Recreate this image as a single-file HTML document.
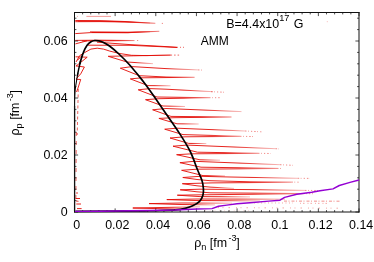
<!DOCTYPE html>
<html><head><meta charset="utf-8"><style>
html,body{margin:0;padding:0;background:#fff;}
body{width:374px;height:262px;overflow:hidden;position:relative;font-family:"Liberation Sans",sans-serif;}
svg{position:absolute;left:0;top:0;}
text{font-family:"Liberation Sans",sans-serif;fill:#000;}
#txt{will-change:transform;}
</style></head><body>
<svg width="374" height="262" viewBox="0 0 374 262">
<rect width="374" height="262" fill="#fff"/>

<defs>
<linearGradient id="g0" gradientUnits="userSpaceOnUse" x1="108.2" y1="0" x2="170.6" y2="0"><stop offset="0" stop-color="#e30b05"/><stop offset="0.6" stop-color="#e30b05"/><stop offset="1" stop-color="#e30b05" stop-opacity="0.3"/></linearGradient>
<linearGradient id="g1" gradientUnits="userSpaceOnUse" x1="108.2" y1="0" x2="153.0" y2="0"><stop offset="0" stop-color="#e30b05"/><stop offset="0.6" stop-color="#e30b05"/><stop offset="1" stop-color="#e30b05" stop-opacity="0.3"/></linearGradient>
<linearGradient id="g2" gradientUnits="userSpaceOnUse" x1="120.3" y1="0" x2="198.0" y2="0"><stop offset="0" stop-color="#e30b05"/><stop offset="0.6" stop-color="#e30b05"/><stop offset="1" stop-color="#e30b05" stop-opacity="0.3"/></linearGradient>
<linearGradient id="g3" gradientUnits="userSpaceOnUse" x1="120.3" y1="0" x2="194.6" y2="0"><stop offset="0" stop-color="#e30b05"/><stop offset="0.6" stop-color="#e30b05"/><stop offset="1" stop-color="#e30b05" stop-opacity="0.3"/></linearGradient>
<linearGradient id="g4" gradientUnits="userSpaceOnUse" x1="130.3" y1="0" x2="194.6" y2="0"><stop offset="0" stop-color="#e30b05"/><stop offset="0.6" stop-color="#e30b05"/><stop offset="1" stop-color="#e30b05" stop-opacity="0.3"/></linearGradient>
<linearGradient id="g5" gradientUnits="userSpaceOnUse" x1="130.3" y1="0" x2="170.6" y2="0"><stop offset="0" stop-color="#e30b05"/><stop offset="0.6" stop-color="#e30b05"/><stop offset="1" stop-color="#e30b05" stop-opacity="0.3"/></linearGradient>
<linearGradient id="g6" gradientUnits="userSpaceOnUse" x1="138.2" y1="0" x2="213.0" y2="0"><stop offset="0" stop-color="#e30b05"/><stop offset="0.6" stop-color="#e30b05"/><stop offset="1" stop-color="#e30b05" stop-opacity="0.3"/></linearGradient>
<linearGradient id="g7" gradientUnits="userSpaceOnUse" x1="138.2" y1="0" x2="209.0" y2="0"><stop offset="0" stop-color="#e30b05"/><stop offset="0.6" stop-color="#e30b05"/><stop offset="1" stop-color="#e30b05" stop-opacity="0.3"/></linearGradient>
<linearGradient id="g8" gradientUnits="userSpaceOnUse" x1="145.5" y1="0" x2="209.0" y2="0"><stop offset="0" stop-color="#e30b05"/><stop offset="0.6" stop-color="#e30b05"/><stop offset="1" stop-color="#e30b05" stop-opacity="0.3"/></linearGradient>
<linearGradient id="g9" gradientUnits="userSpaceOnUse" x1="145.5" y1="0" x2="185.0" y2="0"><stop offset="0" stop-color="#e30b05"/><stop offset="0.6" stop-color="#e30b05"/><stop offset="1" stop-color="#e30b05" stop-opacity="0.3"/></linearGradient>
<linearGradient id="g10" gradientUnits="userSpaceOnUse" x1="152.6" y1="0" x2="241.5" y2="0"><stop offset="0" stop-color="#e30b05"/><stop offset="0.6" stop-color="#e30b05"/><stop offset="1" stop-color="#e30b05" stop-opacity="0.3"/></linearGradient>
<linearGradient id="g11" gradientUnits="userSpaceOnUse" x1="152.6" y1="0" x2="231.5" y2="0"><stop offset="0" stop-color="#e30b05"/><stop offset="0.6" stop-color="#e30b05"/><stop offset="1" stop-color="#e30b05" stop-opacity="0.3"/></linearGradient>
<linearGradient id="g12" gradientUnits="userSpaceOnUse" x1="158.9" y1="0" x2="231.5" y2="0"><stop offset="0" stop-color="#e30b05"/><stop offset="0.6" stop-color="#e30b05"/><stop offset="1" stop-color="#e30b05" stop-opacity="0.3"/></linearGradient>
<linearGradient id="g13" gradientUnits="userSpaceOnUse" x1="158.9" y1="0" x2="198.7" y2="0"><stop offset="0" stop-color="#e30b05"/><stop offset="0.6" stop-color="#e30b05"/><stop offset="1" stop-color="#e30b05" stop-opacity="0.3"/></linearGradient>
<linearGradient id="g14" gradientUnits="userSpaceOnUse" x1="164.7" y1="0" x2="245.0" y2="0"><stop offset="0" stop-color="#e30b05"/><stop offset="0.6" stop-color="#e30b05"/><stop offset="1" stop-color="#e30b05" stop-opacity="0.3"/></linearGradient>
<linearGradient id="g15" gradientUnits="userSpaceOnUse" x1="164.7" y1="0" x2="240.0" y2="0"><stop offset="0" stop-color="#e30b05"/><stop offset="0.6" stop-color="#e30b05"/><stop offset="1" stop-color="#e30b05" stop-opacity="0.3"/></linearGradient>
<linearGradient id="g16" gradientUnits="userSpaceOnUse" x1="170.0" y1="0" x2="240.0" y2="0"><stop offset="0" stop-color="#e30b05"/><stop offset="0.6" stop-color="#e30b05"/><stop offset="1" stop-color="#e30b05" stop-opacity="0.3"/></linearGradient>
<linearGradient id="g17" gradientUnits="userSpaceOnUse" x1="170.0" y1="0" x2="206.3" y2="0"><stop offset="0" stop-color="#e30b05"/><stop offset="0.6" stop-color="#e30b05"/><stop offset="1" stop-color="#e30b05" stop-opacity="0.3"/></linearGradient>
<linearGradient id="g18" gradientUnits="userSpaceOnUse" x1="173.0" y1="0" x2="275.6" y2="0"><stop offset="0" stop-color="#e30b05"/><stop offset="0.6" stop-color="#e30b05"/><stop offset="1" stop-color="#e30b05" stop-opacity="0.3"/></linearGradient>
<linearGradient id="g19" gradientUnits="userSpaceOnUse" x1="173.0" y1="0" x2="258.0" y2="0"><stop offset="0" stop-color="#e30b05"/><stop offset="0.6" stop-color="#e30b05"/><stop offset="1" stop-color="#e30b05" stop-opacity="0.3"/></linearGradient>
<linearGradient id="g20" gradientUnits="userSpaceOnUse" x1="176.6" y1="0" x2="258.0" y2="0"><stop offset="0" stop-color="#e30b05"/><stop offset="0.6" stop-color="#e30b05"/><stop offset="1" stop-color="#e30b05" stop-opacity="0.3"/></linearGradient>
<linearGradient id="g21" gradientUnits="userSpaceOnUse" x1="176.6" y1="0" x2="220.0" y2="0"><stop offset="0" stop-color="#e30b05"/><stop offset="0.6" stop-color="#e30b05"/><stop offset="1" stop-color="#e30b05" stop-opacity="0.3"/></linearGradient>
<linearGradient id="g22" gradientUnits="userSpaceOnUse" x1="179.9" y1="0" x2="280.0" y2="0"><stop offset="0" stop-color="#e30b05"/><stop offset="0.6" stop-color="#e30b05"/><stop offset="1" stop-color="#e30b05" stop-opacity="0.3"/></linearGradient>
<linearGradient id="g23" gradientUnits="userSpaceOnUse" x1="179.9" y1="0" x2="277.0" y2="0"><stop offset="0" stop-color="#e30b05"/><stop offset="0.6" stop-color="#e30b05"/><stop offset="1" stop-color="#e30b05" stop-opacity="0.3"/></linearGradient>
<linearGradient id="g24" gradientUnits="userSpaceOnUse" x1="181.6" y1="0" x2="277.0" y2="0"><stop offset="0" stop-color="#e30b05"/><stop offset="0.6" stop-color="#e30b05"/><stop offset="1" stop-color="#e30b05" stop-opacity="0.3"/></linearGradient>
<linearGradient id="g25" gradientUnits="userSpaceOnUse" x1="181.6" y1="0" x2="225.0" y2="0"><stop offset="0" stop-color="#e30b05"/><stop offset="0.6" stop-color="#e30b05"/><stop offset="1" stop-color="#e30b05" stop-opacity="0.3"/></linearGradient>
<linearGradient id="g26" gradientUnits="userSpaceOnUse" x1="182.8" y1="0" x2="297.7" y2="0"><stop offset="0" stop-color="#e30b05"/><stop offset="0.6" stop-color="#e30b05"/><stop offset="1" stop-color="#e30b05" stop-opacity="0.3"/></linearGradient>
<linearGradient id="g27" gradientUnits="userSpaceOnUse" x1="182.8" y1="0" x2="291.4" y2="0"><stop offset="0" stop-color="#e30b05"/><stop offset="0.6" stop-color="#e30b05"/><stop offset="1" stop-color="#e30b05" stop-opacity="0.3"/></linearGradient>
<linearGradient id="g28" gradientUnits="userSpaceOnUse" x1="182.3" y1="0" x2="291.4" y2="0"><stop offset="0" stop-color="#e30b05"/><stop offset="0.6" stop-color="#e30b05"/><stop offset="1" stop-color="#e30b05" stop-opacity="0.3"/></linearGradient>
<linearGradient id="g29" gradientUnits="userSpaceOnUse" x1="182.3" y1="0" x2="234.0" y2="0"><stop offset="0" stop-color="#e30b05"/><stop offset="0.6" stop-color="#e30b05"/><stop offset="1" stop-color="#e30b05" stop-opacity="0.3"/></linearGradient>
<linearGradient id="g30" gradientUnits="userSpaceOnUse" x1="180.2" y1="0" x2="305.0" y2="0"><stop offset="0" stop-color="#e30b05"/><stop offset="0.6" stop-color="#e30b05"/><stop offset="1" stop-color="#e30b05" stop-opacity="0.3"/></linearGradient>
<linearGradient id="g31" gradientUnits="userSpaceOnUse" x1="180.2" y1="0" x2="303.0" y2="0"><stop offset="0" stop-color="#e30b05"/><stop offset="0.6" stop-color="#e30b05"/><stop offset="1" stop-color="#e30b05" stop-opacity="0.3"/></linearGradient>
<linearGradient id="g32" gradientUnits="userSpaceOnUse" x1="177.3" y1="0" x2="303.0" y2="0"><stop offset="0" stop-color="#e30b05"/><stop offset="0.6" stop-color="#e30b05"/><stop offset="1" stop-color="#e30b05" stop-opacity="0.3"/></linearGradient>
<linearGradient id="g33" gradientUnits="userSpaceOnUse" x1="177.3" y1="0" x2="250.0" y2="0"><stop offset="0" stop-color="#e30b05"/><stop offset="0.6" stop-color="#e30b05"/><stop offset="1" stop-color="#e30b05" stop-opacity="0.3"/></linearGradient>
<linearGradient id="g34" gradientUnits="userSpaceOnUse" x1="166.8" y1="0" x2="285.0" y2="0"><stop offset="0" stop-color="#e30b05"/><stop offset="0.6" stop-color="#e30b05"/><stop offset="1" stop-color="#e30b05" stop-opacity="0.3"/></linearGradient>
<linearGradient id="g35" gradientUnits="userSpaceOnUse" x1="166.8" y1="0" x2="260.0" y2="0"><stop offset="0" stop-color="#e30b05"/><stop offset="0.6" stop-color="#e30b05"/><stop offset="1" stop-color="#e30b05" stop-opacity="0.3"/></linearGradient>
<linearGradient id="g36" gradientUnits="userSpaceOnUse" x1="149.0" y1="0" x2="232.0" y2="0"><stop offset="0" stop-color="#e30b05"/><stop offset="0.6" stop-color="#e30b05"/><stop offset="1" stop-color="#e30b05" stop-opacity="0.3"/></linearGradient>
<linearGradient id="g37" gradientUnits="userSpaceOnUse" x1="149.0" y1="0" x2="215.0" y2="0"><stop offset="0" stop-color="#e30b05"/><stop offset="0.6" stop-color="#e30b05"/><stop offset="1" stop-color="#e30b05" stop-opacity="0.3"/></linearGradient>
<linearGradient id="g38" gradientUnits="userSpaceOnUse" x1="132.8" y1="0" x2="200.0" y2="0"><stop offset="0" stop-color="#e30b05"/><stop offset="0.6" stop-color="#e30b05"/><stop offset="1" stop-color="#e30b05" stop-opacity="0.3"/></linearGradient>
<linearGradient id="g39" gradientUnits="userSpaceOnUse" x1="132.8" y1="0" x2="190.0" y2="0"><stop offset="0" stop-color="#e30b05"/><stop offset="0.6" stop-color="#e30b05"/><stop offset="1" stop-color="#e30b05" stop-opacity="0.3"/></linearGradient>
<linearGradient id="g40" gradientUnits="userSpaceOnUse" x1="75.3" y1="0" x2="155.3" y2="0"><stop offset="0" stop-color="#e30b05"/><stop offset="0.6" stop-color="#e30b05"/><stop offset="1" stop-color="#e30b05" stop-opacity="0.3"/></linearGradient>
<linearGradient id="g41" gradientUnits="userSpaceOnUse" x1="75.3" y1="0" x2="155.3" y2="0"><stop offset="0" stop-color="#e30b05"/><stop offset="0.6" stop-color="#e30b05"/><stop offset="1" stop-color="#e30b05" stop-opacity="0.3"/></linearGradient>
<linearGradient id="g42" gradientUnits="userSpaceOnUse" x1="78.0" y1="0" x2="150.0" y2="0"><stop offset="0" stop-color="#e30b05"/><stop offset="0.6" stop-color="#e30b05"/><stop offset="1" stop-color="#e30b05" stop-opacity="0.3"/></linearGradient>
<linearGradient id="g43" gradientUnits="userSpaceOnUse" x1="75.3" y1="0" x2="159.3" y2="0"><stop offset="0" stop-color="#e30b05"/><stop offset="0.6" stop-color="#e30b05"/><stop offset="1" stop-color="#e30b05" stop-opacity="0.3"/></linearGradient>
<linearGradient id="g44" gradientUnits="userSpaceOnUse" x1="90.0" y1="0" x2="159.3" y2="0"><stop offset="0" stop-color="#e30b05"/><stop offset="0.6" stop-color="#e30b05"/><stop offset="1" stop-color="#e30b05" stop-opacity="0.3"/></linearGradient>
<linearGradient id="g45" gradientUnits="userSpaceOnUse" x1="92.0" y1="0" x2="150.0" y2="0"><stop offset="0" stop-color="#e30b05"/><stop offset="0.6" stop-color="#e30b05"/><stop offset="1" stop-color="#e30b05" stop-opacity="0.3"/></linearGradient>
<linearGradient id="g46" gradientUnits="userSpaceOnUse" x1="75.3" y1="0" x2="134.5" y2="0"><stop offset="0" stop-color="#e30b05"/><stop offset="0.6" stop-color="#e30b05"/><stop offset="1" stop-color="#e30b05" stop-opacity="0.3"/></linearGradient>
<linearGradient id="g47" gradientUnits="userSpaceOnUse" x1="82.0" y1="0" x2="134.5" y2="0"><stop offset="0" stop-color="#e30b05"/><stop offset="0.6" stop-color="#e30b05"/><stop offset="1" stop-color="#e30b05" stop-opacity="0.3"/></linearGradient>
</defs>
<g fill="none" stroke="#e30b05" stroke-linejoin="round" stroke-linecap="butt">
<polyline points="86.4,16.4 111.0,16.4" stroke-width="0.9" stroke-opacity="0.45"/>
<polyline points="77.3,16.4 78.0,16.4" stroke-width="0.9" stroke-opacity="0.5"/>
<polyline points="161.8,23.4 163.0,23.4" stroke-width="0.8" stroke-opacity="0.6"/>
<polyline points="137.0,40.5 138.2,40.5" stroke-width="0.8" stroke-opacity="0.6"/>
<polyline points="75.4,43.9 87.0,40.8" stroke-width="0.9"/>
<polyline points="97.0,42.2 130.0,44.6 166.0,46.6 177.0,47.4 130.0,45.3 88.0,45.2" stroke-width="0.9"/>
<polyline points="177.0,47.3 184.0,47.3" stroke-width="0.9" stroke-dasharray="1 2" stroke-opacity="0.7"/>
<polyline points="327.3,21.2 327.3,22.2" stroke-width="0.8" stroke-opacity="0.35"/>
<polyline points="76.0,62.0 79.6,55.7 84.6,52.6 90.9,49.1 97.2,48.2 103.5,49.1 109.8,51.1 119.0,53.4 131.5,55.3 147.0,55.6 170.6,55.1" stroke-width="0.9"/>
<polyline points="170.6,55.1 180.0,55.1" stroke-width="0.9" stroke-dasharray="1.5 2" stroke-opacity="0.7"/>
<polyline points="198.0,69.9 203.0,70.1" stroke-width="0.8" stroke-dasharray="1.5 1.5 0.8 2.2 1.2 2" stroke-opacity="0.6"/>
<polyline points="211.0,91.7 226.0,92.3" stroke-width="0.8" stroke-dasharray="1.5 1.5 0.8 2.2 1.2 2" stroke-opacity="0.6"/>
<polyline points="209.0,97.7 220.0,97.7" stroke-width="0.8" stroke-dasharray="1.5 1.5 0.8 2.2 1.2 2" stroke-opacity="0.6"/>
<polyline points="245.0,131.0 263.0,131.9" stroke-width="0.8" stroke-dasharray="1.5 1.5 0.8 2.2 1.2 2" stroke-opacity="0.6"/>
<polyline points="240.0,136.3 255.0,136.6" stroke-width="0.8" stroke-dasharray="1.5 1.5 0.8 2.2 1.2 2" stroke-opacity="0.6"/>
<polyline points="258.0,153.3 270.5,153.5" stroke-width="0.8" stroke-dasharray="1.5 1.5 0.8 2.2 1.2 2" stroke-opacity="0.6"/>
<polyline points="275.6,148.7 279.0,148.9" stroke-width="0.8" stroke-dasharray="1.5 1.5 0.8 2.2 1.2 2" stroke-opacity="0.6"/>
<polyline points="280.0,164.7 292.7,165.3" stroke-width="0.8" stroke-dasharray="1.5 1.5 0.8 2.2 1.2 2" stroke-opacity="0.6"/>
<polyline points="277.0,168.4 282.0,168.5" stroke-width="0.8" stroke-dasharray="1.5 1.5 0.8 2.2 1.2 2" stroke-opacity="0.6"/>
<polyline points="297.7,178.3 310.0,178.4" stroke-width="0.8" stroke-dasharray="1.5 1.5 0.8 2.2 1.2 2" stroke-opacity="0.6"/>
<polyline points="291.4,182.1 300.5,182.2" stroke-width="0.8" stroke-dasharray="1.5 1.5 0.8 2.2 1.2 2" stroke-opacity="0.6"/>
<polyline points="305.0,190.4 318.0,190.5" stroke-width="0.8" stroke-dasharray="1.5 1.5 0.8 2.2 1.2 2" stroke-opacity="0.6"/>
<polyline points="303.0,193.6 313.0,193.7" stroke-width="0.8" stroke-dasharray="1.5 1.5 0.8 2.2 1.2 2" stroke-opacity="0.6"/>
<polyline points="218.0,207.6 338.0,208.2" stroke-width="0.9" stroke-dasharray="1 3.5 1 5 1.5 6" stroke-opacity="0.4"/>
<polyline points="205.0,210.3 250.0,210.4" stroke-width="0.6" stroke-dasharray="0.8 4" stroke-opacity="0.3"/>
<polyline points="284.0,201.1 340.5,201.2" stroke-width="0.9" stroke-dasharray="3 1.5 1 2" stroke-opacity="0.5"/>
<polyline points="254.0,202.9 293.0,203.0" stroke-width="0.9" stroke-dasharray="1 2.5" stroke-opacity="0.4"/>
<polyline points="300.0,203.3 329.0,203.4" stroke-width="0.9" stroke-dasharray="1 2 1.5 3" stroke-opacity="0.4"/>
<polyline points="75.6,56.8 87.2,57.2 76.8,65.5 75.9,65.9 84.4,67.0 80.7,73.9 76.4,78.7 76.4,79.3 80.7,79.5 78.0,88.0 76.5,92.0" stroke-width="0.9"/>
<polyline points="77.6,60.0 80.0,57.8" stroke-width="0.9"/>
<polyline points="78.3,89.0 77.2,135.0" stroke-width="0.8" stroke-dasharray="3 2.5" stroke-opacity="0.8"/>
<polyline points="76.3,132.0 75.9,200.0" stroke-width="0.8" stroke-dasharray="4 5" stroke-opacity="0.8"/>
<polyline points="75.8,198.5 80.0,198.5" stroke-width="0.9"/>
<polyline points="76.3,204.0 81.0,204.0" stroke-width="0.9"/>
<polyline points="77.0,208.6 81.6,208.6" stroke-width="0.9"/>
<polyline points="76.0,193.0 78.0,193.0" stroke-width="0.8"/>
<polyline points="76.0,201.0 78.5,201.3" stroke-width="0.8"/>
<polyline points="108.2,56.3 133.5,55.8 170.6,55.1" stroke="url(#g0)" stroke-width="0.9"/>
<polyline points="108.2,56.3 127.0,62.0 153.0,63.7" stroke="url(#g1)" stroke-width="0.9"/>
<polyline points="120.3,68.2 132.0,66.6 166.0,68.6 198.0,69.9" stroke="url(#g2)" stroke-width="0.9"/>
<polyline points="120.3,68.2 139.2,75.7 166.0,77.0 194.6,77.3" stroke="url(#g3)" stroke-width="0.9"/>
<polyline points="130.3,78.9 142.0,77.8 194.6,77.3" stroke="url(#g4)" stroke-width="0.9"/>
<polyline points="130.3,78.9 148.0,85.6 170.6,85.8" stroke="url(#g5)" stroke-width="0.9"/>
<polyline points="138.2,89.8 150.0,88.6 166.0,89.2 213.0,91.7" stroke="url(#g6)" stroke-width="0.9"/>
<polyline points="138.2,89.8 157.0,97.0 209.0,97.7" stroke="url(#g7)" stroke-width="0.9"/>
<polyline points="145.5,99.7 159.0,98.7 209.0,97.7" stroke="url(#g8)" stroke-width="0.9"/>
<polyline points="145.5,99.7 163.0,106.0 185.0,106.5" stroke="url(#g9)" stroke-width="0.9"/>
<polyline points="152.6,109.8 166.0,108.5 241.5,111.6" stroke="url(#g10)" stroke-width="0.9"/>
<polyline points="152.6,109.8 171.0,116.4 231.5,117.0" stroke="url(#g11)" stroke-width="0.9"/>
<polyline points="158.9,118.4 174.0,117.7 231.5,117.0" stroke="url(#g12)" stroke-width="0.9"/>
<polyline points="158.9,118.4 177.0,123.8 198.7,124.0" stroke="url(#g13)" stroke-width="0.9"/>
<polyline points="164.7,129.2 177.0,128.2 245.0,131.0" stroke="url(#g14)" stroke-width="0.9"/>
<polyline points="164.7,129.2 183.0,134.6 240.0,136.2" stroke="url(#g15)" stroke-width="0.9"/>
<polyline points="170.0,138.0 185.0,136.8 240.0,136.4" stroke="url(#g16)" stroke-width="0.9"/>
<polyline points="170.0,138.0 188.7,143.4 206.3,143.6" stroke="url(#g17)" stroke-width="0.9"/>
<polyline points="173.0,146.2 187.0,145.1 275.6,148.7" stroke="url(#g18)" stroke-width="0.9"/>
<polyline points="173.0,146.2 197.5,152.2 258.0,153.2" stroke="url(#g19)" stroke-width="0.9"/>
<polyline points="176.6,154.7 192.0,153.8 258.0,153.4" stroke="url(#g20)" stroke-width="0.9"/>
<polyline points="176.6,154.7 200.0,159.8 220.0,160.2" stroke="url(#g21)" stroke-width="0.9"/>
<polyline points="179.9,162.7 194.0,161.3 280.0,164.7" stroke="url(#g22)" stroke-width="0.9"/>
<polyline points="179.9,162.7 201.0,167.2 277.0,168.3" stroke="url(#g23)" stroke-width="0.9"/>
<polyline points="181.6,170.3 197.0,169.2 277.0,168.5" stroke="url(#g24)" stroke-width="0.9"/>
<polyline points="181.6,170.3 203.0,175.6 225.0,175.9" stroke="url(#g25)" stroke-width="0.9"/>
<polyline points="182.8,177.5 200.0,176.3 230.0,177.0 297.7,178.3" stroke="url(#g26)" stroke-width="0.9"/>
<polyline points="182.8,177.5 197.0,179.5 210.0,180.7 250.0,181.8 291.4,182.0" stroke="url(#g27)" stroke-width="0.9"/>
<polyline points="182.3,183.7 212.0,182.9 291.4,182.3" stroke="url(#g28)" stroke-width="0.9"/>
<polyline points="182.3,183.7 197.0,185.8 210.0,187.1 234.0,188.4" stroke="url(#g29)" stroke-width="0.9"/>
<polyline points="180.2,189.8 200.0,189.2 250.0,189.6 305.0,190.4" stroke="url(#g30)" stroke-width="0.9"/>
<polyline points="180.2,189.8 197.0,191.8 210.0,192.8 303.0,193.5" stroke="url(#g31)" stroke-width="0.9"/>
<polyline points="177.3,195.2 202.0,194.8 260.0,194.2 303.0,193.8" stroke="url(#g32)" stroke-width="0.9"/>
<polyline points="177.3,195.2 200.0,196.6 250.0,196.9" stroke="url(#g33)" stroke-width="0.9"/>
<polyline points="166.8,199.6 197.0,199.0 285.0,199.2" stroke="url(#g34)" stroke-width="0.9"/>
<polyline points="166.8,199.6 195.0,200.5 260.0,200.9" stroke="url(#g35)" stroke-width="0.9"/>
<polyline points="149.0,203.6 182.0,203.0 232.0,203.2" stroke="url(#g36)" stroke-width="0.9"/>
<polyline points="149.0,203.6 180.0,204.5 215.0,204.9" stroke="url(#g37)" stroke-width="0.9"/>
<polyline points="132.8,208.0 167.0,207.4 200.0,206.8" stroke="url(#g38)" stroke-width="0.9"/>
<polyline points="132.8,208.0 165.0,208.8 190.0,209.0" stroke="url(#g39)" stroke-width="0.9"/>
<polyline points="75.3,20.5 100.0,20.7 125.0,21.5 155.3,23.3" stroke="url(#g40)" stroke-width="0.9"/>
<polyline points="75.3,21.7 100.0,21.6 125.0,22.0 155.3,23.3" stroke="url(#g41)" stroke-width="0.9"/>
<polyline points="78.0,21.1 100.0,21.1 125.0,21.8 150.0,23.0" stroke="url(#g42)" stroke-width="0.9"/>
<polyline points="75.3,33.6 90.9,32.6 128.0,32.7 159.3,31.3" stroke="url(#g43)" stroke-width="0.9"/>
<polyline points="90.0,31.9 128.0,32.2 159.3,31.3" stroke="url(#g44)" stroke-width="0.9"/>
<polyline points="92.0,32.5 128.0,32.6 150.0,31.8" stroke="url(#g45)" stroke-width="0.9"/>
<polyline points="75.3,40.4 100.0,40.2 134.5,40.5" stroke="url(#g46)" stroke-width="0.9"/>
<polyline points="82.0,40.9 110.0,40.8 134.5,40.6" stroke="url(#g47)" stroke-width="0.9"/>
</g>
<path d="M74.6,211.4L74.6,106" fill="none" stroke="#000" stroke-width="1.3"/>
<path d="M74.6,106.0 C74.6,104.5 74.6,99.8 74.8,97.0 C74.9,94.2 74.9,92.1 75.3,88.9 C75.7,85.7 76.6,80.7 77.0,78.0 C77.4,75.3 77.8,73.8 77.9,73.0" fill="none" stroke="#000" stroke-width="1.05" stroke-linecap="round"/>
<path d="M77.5,75.5 C77.6,75.1 77.6,74.5 77.9,73.0 C78.2,71.5 78.8,68.5 79.3,66.5 C79.8,64.5 80.4,61.9 80.6,61.0" fill="none" stroke="#000" stroke-width="1.4" stroke-linecap="round"/>
<path d="M79.9,63.5 C80.1,63.0 80.2,62.0 80.8,60.2 C81.4,58.4 82.2,55.1 83.3,52.6 C84.3,50.1 85.8,47.1 87.1,45.3 C88.4,43.5 89.7,42.6 91.0,41.8 C92.3,41.0 93.4,40.6 94.7,40.5 C96.0,40.4 97.5,40.6 99.0,40.9 C100.5,41.2 101.7,41.6 103.5,42.5 C105.3,43.4 107.2,44.4 109.8,46.3 C112.4,48.2 115.7,51.0 118.9,54.0 C122.1,57.0 125.7,60.5 129.0,64.2 C132.3,67.9 136.2,72.7 139.0,76.1 C141.8,79.5 143.1,81.2 145.7,84.7 C148.3,88.2 151.1,92.1 154.5,97.0 C157.9,101.9 162.2,108.2 166.2,114.0 C170.2,119.8 174.6,125.8 178.6,132.0 C182.6,138.2 186.8,144.7 190.0,151.0 C193.2,157.3 195.5,164.9 197.5,169.8 C199.5,174.7 200.9,177.2 201.9,180.3 C202.9,183.4 203.2,186.0 203.4,188.5 C203.6,191.0 203.5,193.2 202.9,195.3 C202.3,197.5 201.3,199.7 199.6,201.4 C197.9,203.2 195.1,204.7 192.7,205.8 C190.3,207.0 188.1,207.6 185.2,208.3 C182.2,209.0 179.2,209.5 175.0,209.9 C170.8,210.3 165.0,210.3 160.0,210.5 C155.0,210.7 147.5,210.8 145.0,210.9 L120,211.2 L76,211.4" fill="none" stroke="#000" stroke-width="1.7" stroke-linejoin="round" stroke-linecap="round"/>
<path d="M74.5,212.5V12.0M74.0,12.5H359.5M359.0,12.0V212.5M359.5,212.0H74.0" fill="none" stroke="#111" stroke-width="1"/>
<path d="M74.50,212.0v-3.6M74.50,12.5v3.6M82.63,212.0v-1.9M82.63,12.5v1.9M90.76,212.0v-1.9M90.76,12.5v1.9M98.89,212.0v-1.9M98.89,12.5v1.9M107.01,212.0v-1.9M107.01,12.5v1.9M115.14,212.0v-3.6M115.14,12.5v3.6M123.27,212.0v-1.9M123.27,12.5v1.9M131.40,212.0v-1.9M131.40,12.5v1.9M139.53,212.0v-1.9M139.53,12.5v1.9M147.66,212.0v-1.9M147.66,12.5v1.9M155.79,212.0v-3.6M155.79,12.5v3.6M163.91,212.0v-1.9M163.91,12.5v1.9M172.04,212.0v-1.9M172.04,12.5v1.9M180.17,212.0v-1.9M180.17,12.5v1.9M188.30,212.0v-1.9M188.30,12.5v1.9M196.43,212.0v-3.6M196.43,12.5v3.6M204.56,212.0v-1.9M204.56,12.5v1.9M212.69,212.0v-1.9M212.69,12.5v1.9M220.81,212.0v-1.9M220.81,12.5v1.9M228.94,212.0v-1.9M228.94,12.5v1.9M237.07,212.0v-3.6M237.07,12.5v3.6M245.20,212.0v-1.9M245.20,12.5v1.9M253.33,212.0v-1.9M253.33,12.5v1.9M261.46,212.0v-1.9M261.46,12.5v1.9M269.59,212.0v-1.9M269.59,12.5v1.9M277.71,212.0v-3.6M277.71,12.5v3.6M285.84,212.0v-1.9M285.84,12.5v1.9M293.97,212.0v-1.9M293.97,12.5v1.9M302.10,212.0v-1.9M302.10,12.5v1.9M310.23,212.0v-1.9M310.23,12.5v1.9M318.36,212.0v-3.6M318.36,12.5v3.6M326.49,212.0v-1.9M326.49,12.5v1.9M334.61,212.0v-1.9M334.61,12.5v1.9M342.74,212.0v-1.9M342.74,12.5v1.9M350.87,212.0v-1.9M350.87,12.5v1.9M359.00,212.0v-3.6M359.00,12.5v3.6M74.5,212.00h3.6M359.0,212.00h-3.6M74.5,200.60h1.9M359.0,200.60h-1.9M74.5,189.20h1.9M359.0,189.20h-1.9M74.5,177.80h1.9M359.0,177.80h-1.9M74.5,166.40h1.9M359.0,166.40h-1.9M74.5,155.00h3.6M359.0,155.00h-3.6M74.5,143.60h1.9M359.0,143.60h-1.9M74.5,132.20h1.9M359.0,132.20h-1.9M74.5,120.80h1.9M359.0,120.80h-1.9M74.5,109.40h1.9M359.0,109.40h-1.9M74.5,98.00h3.6M359.0,98.00h-3.6M74.5,86.60h1.9M359.0,86.60h-1.9M74.5,75.20h1.9M359.0,75.20h-1.9M74.5,63.80h1.9M359.0,63.80h-1.9M74.5,52.40h1.9M359.0,52.40h-1.9M74.5,41.00h3.6M359.0,41.00h-3.6M74.5,29.60h1.9M359.0,29.60h-1.9M74.5,18.20h1.9M359.0,18.20h-1.9" fill="none" stroke="#111" stroke-width="0.75"/>
<polyline points="75.0,211.4 100.0,211.2 130.0,210.8 150.0,210.5 175.0,210.0 197.0,209.0 212.0,208.6 218.5,206.3 226.8,205.1 237.0,203.8 250.0,202.7 268.7,201.1 280.0,200.2 284.6,197.4 296.8,194.2 311.8,192.2 320.0,190.8 333.0,188.9 339.3,185.5 350.0,182.4 359.0,180.0" fill="none" stroke="#9400d3" stroke-width="1.45" stroke-linejoin="round"/>
<g id="txt" opacity="0.999">
<text x="76.7" y="229.2" font-size="12.45" text-anchor="middle">0</text>
<text x="117.3" y="229.2" font-size="12.45" text-anchor="middle">0.02</text>
<text x="158.0" y="229.2" font-size="12.45" text-anchor="middle">0.04</text>
<text x="198.6" y="229.2" font-size="12.45" text-anchor="middle">0.06</text>
<text x="239.3" y="229.2" font-size="12.45" text-anchor="middle">0.08</text>
<text x="279.9" y="229.2" font-size="12.45" text-anchor="middle">0.1</text>
<text x="320.6" y="229.2" font-size="12.45" text-anchor="middle">0.12</text>
<text x="361.2" y="229.2" font-size="12.45" text-anchor="middle">0.14</text>
<text x="67.6" y="216.4" font-size="12.45" text-anchor="end">0</text>
<text x="67.6" y="159.4" font-size="12.45" text-anchor="end">0.02</text>
<text x="67.6" y="102.4" font-size="12.45" text-anchor="end">0.04</text>
<text x="67.6" y="45.4" font-size="12.45" text-anchor="end">0.06</text>
<text x="226.3" y="27.6" font-size="12.45">B=4.4x10<tspan font-size="9.2" dy="-6.6">17</tspan><tspan dy="6.6" dx="0.8"> G</tspan></text>
<text x="200.7" y="45.3" font-size="12.0">AMM</text>
<text x="194.2" y="247.2" font-size="12.45">ρ<tspan font-size="9.2" dy="3">n</tspan><tspan dy="-3"> [fm</tspan><tspan font-size="9" dy="-6" dx="1.3">-3</tspan><tspan dy="6" dx="-0.3">]</tspan></text>
<text transform="translate(19.0,135.5) rotate(-90)" font-size="12.45">ρ<tspan font-size="9.2" dy="3">p</tspan><tspan dy="-3"> [fm</tspan><tspan font-size="9" dy="-6" dx="1.3">-3</tspan><tspan dy="6" dx="-0.3">]</tspan></text>
</g>
</svg></body></html>
